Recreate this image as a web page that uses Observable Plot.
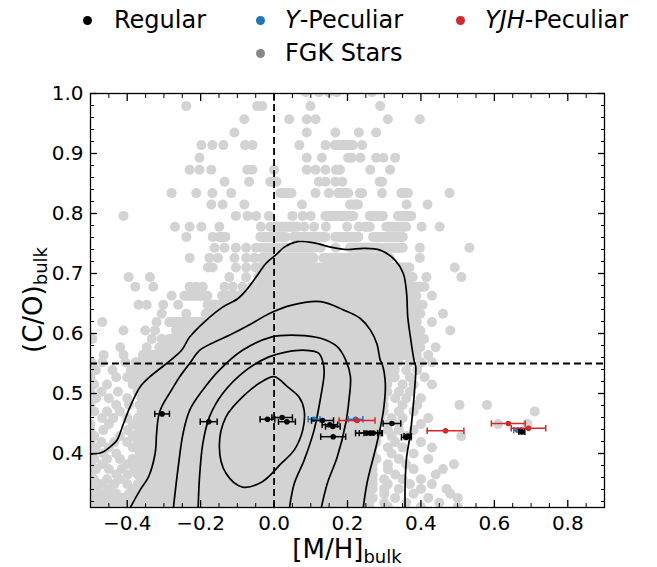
<!DOCTYPE html>
<html><head><meta charset="utf-8">
<script src="https://cdn.jsdelivr.net/npm/d3@7"></script>
<script src="https://cdn.jsdelivr.net/npm/@observablehq/plot@0.6"></script>
<style>
body{margin:0;background:#fff;font-family:"DejaVu Sans",sans-serif;}
#wrap{position:relative;width:657px;height:567px;overflow:hidden;}
#legend{position:relative;width:657px;height:75px;font-size:24px;color:#000;}
#legend .sw{position:absolute;width:9px;height:9px;border-radius:50%;}
#legend .tx{position:absolute;line-height:28px;white-space:nowrap;}
</style></head>
<body><div id="wrap">
<div id="legend">
  <span class="sw" style="left:83px;top:16px;background:#000"></span><span class="tx" style="left:114px;top:6px">Regular</span>
  <span class="sw" style="left:256px;top:16px;background:#1f77b4"></span><span class="tx" style="left:285px;top:6px"><i>Y</i>-Peculiar</span>
  <span class="sw" style="left:456px;top:16px;background:#d62728"></span><span class="tx" style="left:485px;top:6px"><i>YJH</i>-Peculiar</span>
  <span class="sw" style="left:256px;top:49px;background:#888"></span><span class="tx" style="left:285px;top:39px">FGK Stars</span>
</div>
<div id="chart"></div>
</div>
<script>
// ---- FGK stars: rows of C/O, with [M/H] values (numbers = single star, pairs = run of overlapping stars)
const fgkCO = [1.002,0.979,0.957,0.935,0.914,0.893,0.873,0.853,0.834,0.815,0.796,0.778,0.761,0.743,0.726,0.710,0.694,0.678,0.663,0.648,0.633,0.619,0.605,0.591,0.577,0.564,
  0.552,0.539,0.527,0.515,0.503,0.492,0.481,0.470,0.459,0.449,0.439,0.429,0.419,0.410,0.400,0.391,0.382,0.374,0.365,0.357,0.349,0.341,0.333,0.326,0.318,0.311];
const fgkMH = [
  [0.086,0.122,0.149,0.171,0.267],
  [-0.239,-0.046,-0.032,0.099,0.289],
  [-0.081,0.041,0.089,0.113,0.31,0.397],
  [-0.108,0.089,0.167,0.231,0.278],
  [-0.198,-0.168,-0.138,-0.079,-0.059,0.069,0.14,[0.167,0.216],0.24],
  [-0.203,0.089,0.13,[0.203,0.213],0.235,0.278,0.298,0.33],
  [-0.23,-0.203,-0.171,-0.073,-0.059,0.0,0.089,0.113,0.14,[0.17,0.181],0.262,0.316],
  [-0.135,-0.068,[-0.009,0.008],0.122,0.14,0.167,0.186,[0.289,0.296]],
  [-0.279,-0.212,-0.168,-0.117,[0.018,0.049],0.113,0.149,[0.176,0.203],[0.235,0.241],0.294,[0.348,0.366],0.478],
  [-0.171,-0.14,-0.081,0.076,[0.208,0.23],0.361,0.418],
  [-0.41,-0.104,-0.072,-0.049,-0.014,0.05,0.078,0.1,[0.141,0.217],[0.262,0.298],[0.339,0.375]],
  [-0.27,-0.23,-0.198,-0.149,-0.036,[-0.009,0.064],0.082,0.109,0.141,0.199,0.231,[0.249,0.262],[0.307,0.361],0.402,0.451],
  [-0.239,-0.167,[-0.149,-0.131],[-0.036,0.032],[0.055,0.141],[0.168,0.231],[0.271,0.352]],
  [-0.162,-0.135,-0.104,-0.076,-0.049,[-0.032,0.109],0.127,0.168,[0.208,0.289],[0.303,0.352],0.397,0.532],
  [-0.23,-0.176,-0.153,-0.108,-0.076,-0.054,[-0.032,0.109],[0.136,0.316],0.397],
  [-0.18,-0.167,-0.104,-0.076,[-0.049,0.37],0.492],
  [-0.396,-0.338,-0.122,-0.076,[-0.041,0.379],0.415,0.51],
  [-0.378,-0.329,-0.23,-0.212,-0.194,-0.135,-0.113,-0.086,[-0.059,0.411]],
  [-0.279,[-0.243,-0.18],[-0.14,0.389],0.43],
  [-0.369,-0.347,-0.302,-0.261,[-0.18,0.406]],
  [-0.306,-0.239,[-0.185,0.40],0.46],
  [-0.468,-0.32,[-0.284,0.39],0.43],
  [-0.41,-0.351,-0.324,[-0.266,0.40],0.48],
  [-0.495,-0.333,-0.306,[-0.284,0.41]],
  [-0.419,-0.347,[-0.311,0.40],0.44],
  [-0.464,-0.41,[-0.356,0.39],0.42],
  [-0.497,-0.468,-0.405,[-0.375,0.34],0.37,0.40,0.43],
  [-0.485,-0.44,-0.39,[-0.37,0.33],0.36,0.39],
  [-0.5,-0.43,-0.40,[-0.375,0.33],0.37,0.41],
  [-0.49,-0.455,-0.385,[-0.36,0.31],0.35,0.38,0.43],
  [-0.5,-0.47,-0.425,[-0.37,0.31],0.34,0.37],
  [-0.485,-0.45,-0.40,[-0.36,0.30],0.33,0.36,0.40],
  [-0.5,-0.43,-0.395,[-0.365,0.30],0.35,0.39,0.505,0.58],
  [-0.49,-0.455,-0.42,[-0.36,0.30],0.34,0.38,0.71],
  [-0.468,-0.438,-0.40,[-0.37,0.29],0.32,0.35,0.42],
  [-0.5,-0.45,-0.385,[-0.36,0.28],0.31,0.34,0.40,0.61,0.69],
  [-0.5,-0.465,-0.398,[-0.368,0.28],0.31,0.34,0.38],
  [-0.49,-0.42,-0.385,[-0.36,0.28],0.32,0.36,0.51],
  [-0.5,-0.47,-0.435,-0.40,[-0.37,0.28],0.33,0.40],
  [-0.485,-0.45,-0.385,[-0.36,0.27],0.31,0.35,0.43],
  [-0.5,-0.465,-0.43,[-0.365,0.27],0.32,0.38],
  [-0.49,-0.455,-0.42,-0.385,[-0.36,0.28],0.34,0.42],
  [-0.5,-0.468,-0.40,[-0.37,0.27],0.31,0.36,0.49],
  [-0.485,-0.45,-0.415,-0.38,[-0.36,0.27],0.31,0.38,0.46],
  [-0.5,-0.43,-0.398,[-0.37,0.27],0.33,0.44],
  [-0.49,-0.455,-0.42,[-0.36,0.27],0.30,0.35,0.40],
  [-0.5,-0.47,-0.435,-0.40,[-0.37,0.27],0.31,0.37,0.43],
  [-0.485,-0.45,-0.385,[-0.36,0.27],0.30,0.34,0.40,0.47],
  [-0.5,-0.465,-0.43,-0.395,[-0.365,0.26],0.30,0.38,0.48],
  [[-0.5,0.27],0.33,0.42,0.50],
  [[-0.5,0.26],0.30,0.36,0.45],
  [[-0.5,0.26],0.31,0.40,0.50]
];

// ---- KDE contours of the FGK sample: [M/H], C/O
const contour1 = [[-0.5,0.399],[-0.468,0.402],[-0.441,0.414],[-0.428,0.422],[-0.41,0.45],[-0.392,0.478],[-0.365,0.511],[-0.338,0.528],[-0.293,0.55],[-0.252,0.572],[-0.23,0.594],[-0.185,0.622],[-0.14,0.644],[-0.099,0.658],[-0.076,0.672],[-0.049,0.694],[-0.022,0.717],[0.005,0.731],[0.028,0.744],[0.064,0.753],[0.109,0.751],[0.154,0.744],[0.199,0.74],[0.244,0.742],[0.289,0.739],[0.33,0.722],[0.352,0.7],[0.361,0.667],[0.364,0.628],[0.37,0.6],[0.381,0.556],[0.386,0.544],[0.384,0.517],[0.378,0.472],[0.37,0.428],[0.361,0.394],[0.357,0.35],[0.357,0.305]];
const contour2 = [[-0.396,0.305],[-0.365,0.339],[-0.342,0.361],[-0.324,0.4],[-0.32,0.433],[-0.315,0.461],[-0.306,0.478],[-0.279,0.506],[-0.257,0.528],[-0.23,0.55],[-0.203,0.572],[-0.162,0.586],[-0.122,0.597],[-0.068,0.614],[-0.014,0.633],[0.046,0.647],[0.127,0.653],[0.19,0.639],[0.235,0.625],[0.262,0.606],[0.28,0.583],[0.289,0.556],[0.294,0.55],[0.303,0.517],[0.298,0.472],[0.28,0.417],[0.253,0.35],[0.242,0.305]];
const contour3 = [[-0.275,0.305],[-0.261,0.378],[-0.248,0.433],[-0.23,0.472],[-0.194,0.506],[-0.149,0.539],[-0.086,0.572],[-0.008,0.594],[0.064,0.597],[0.127,0.592],[0.172,0.578],[0.195,0.556],[0.208,0.528],[0.204,0.489],[0.195,0.45],[0.172,0.394],[0.145,0.35],[0.127,0.305]];
const contour4 = [[-0.207,0.305],[-0.203,0.361],[-0.194,0.417],[-0.176,0.461],[-0.14,0.5],[-0.076,0.539],[-0.014,0.561],[0.032,0.569],[0.086,0.572],[0.122,0.567],[0.135,0.547],[0.136,0.53],[0.127,0.494],[0.109,0.439],[0.082,0.389],[0.055,0.35],[0.041,0.305]];
const contour5 = [[0,0.528],[0.037,0.511],[0.068,0.494],[0.082,0.472],[0.078,0.439],[0.055,0.406],[0.019,0.383],[-0.032,0.353],[-0.086,0.344],[-0.131,0.367],[-0.149,0.411],[-0.131,0.461],[-0.076,0.5],[-0.035,0.519]];

// ---- planets: bulk [M/H], bulk C/O, [M/H] uncertainty
const regular = [
  {mh:-0.305,co:0.466,err:0.02},{mh:-0.178,co:0.453,err:0.023},{mh:-0.018,co:0.457,err:0.02},
  {mh:0.022,co:0.460,err:0.028},{mh:0.035,co:0.453,err:0.023},{mh:0.132,co:0.455,err:0.03},
  {mh:0.152,co:0.448,err:0.021},{mh:0.160,co:0.445,err:0.02},{mh:0.161,co:0.428,err:0.034},
  {mh:0.252,co:0.434,err:0.03},{mh:0.262,co:0.434,err:0.03},{mh:0.270,co:0.434,err:0.025},
  {mh:0.321,co:0.450,err:0.024},{mh:0.360,co:0.427,err:0.013},{mh:0.364,co:0.429,err:0.01},
  {mh:0.675,co:0.436,err:0.008}
];
const yPeculiar = [{mh:0.109,co:0.457,err:0.016},{mh:0.222,co:0.457,err:0.02},{mh:0.663,co:0.439,err:0.01}];
const yjhPeculiar = [{mh:0.226,co:0.455,err:0.049},{mh:0.467,co:0.438,err:0.05},{mh:0.638,co:0.450,err:0.046},{mh:0.693,co:0.442,err:0.047}];

const xMajor = [-0.4,-0.2,0.0,0.2,0.4,0.6,0.8];
const yMajor = [0.4,0.5,0.6,0.7,0.8,0.9,1.0];
const xMinor = d3.range(-10,19).map(k=>k*0.05).filter(v=>Math.abs(v*5-Math.round(v*5))>1e-6);
const yMinor = d3.range(16,51).map(k=>k*0.02).filter(v=>Math.abs(v*10-Math.round(v*10))>1e-6);

// ---- build tables
const singles = [], runs = [];
fgkCO.forEach((co,i)=>fgkMH[i].forEach(v=>{
  if (Array.isArray(v)) runs.push({co, a:v[0], b:v[1]}); else singles.push({co, mh:v});
}));
const gray = "#d3d3d3";
const capSymbol = {draw(ctx, size){const h=Math.sqrt(size/Math.PI); ctx.moveTo(0,-h); ctx.lineTo(0,h);}};
function group(data, color){
  return [
    Plot.ruleY(data,{y:"co",x1:d=>d.mh-d.err,x2:d=>d.mh+d.err,stroke:color,strokeWidth:1.5}),
    Plot.dot(data,{x:d=>d.mh-d.err,y:"co",symbol:capSymbol,r:3.2,fill:"none",stroke:color,strokeWidth:1.5}),
    Plot.dot(data,{x:d=>d.mh+d.err,y:"co",symbol:capSymbol,r:3.2,fill:"none",stroke:color,strokeWidth:1.5}),
    Plot.dot(data,{x:"mh",y:"co",r:2.8,fill:color,stroke:"none"})
  ];
}
const cline = (c, curve="catmull-rom") => Plot.line(c,{x:d=>d[0],y:d=>d[1],curve,stroke:"black",strokeWidth:1.7,clip:true});
const tickAx = (f, anchor, ticks, size, w) => f({anchor, ticks, tickSize:-size, fill:"none", label:null, stroke:"black", strokeWidth:w});

const plot = Plot.plot({
  width:657, height:492,
  marginTop:18, marginBottom:60, marginLeft:90, marginRight:53,
  x:{domain:[-0.5,0.9]},
  y:{domain:[0.31,1.0]},
  style:{fontFamily:"DejaVu Sans", fontSize:"20px", color:"black", background:"white", overflow:"visible"},
  marks:[
    Plot.ruleY(runs,{y:"co",x1:"a",x2:"b",stroke:gray,strokeWidth:10,strokeLinecap:"round",clip:true}),
    Plot.dot(singles,{x:"mh",y:"co",r:5,fill:gray,stroke:"none",clip:true}),
    cline(contour1), cline(contour2), cline(contour3), cline(contour4), cline(contour5,"catmull-rom-closed"),
    Plot.ruleX([0],{stroke:"black",strokeWidth:1.8,strokeDasharray:"7,4"}),
    Plot.ruleY([0.55],{stroke:"black",strokeWidth:1.8,strokeDasharray:"7,4"}),
    ...group(yPeculiar,"#1f77b4"),
    ...group(yjhPeculiar,"#d62728"),
    ...group(regular,"black"),
    Plot.frame({stroke:"black",strokeWidth:1.3}),
    Plot.axisX({anchor:"bottom",ticks:xMajor,tickSize:0,tickPadding:8,tickFormat:d3.format(".1f"),label:null}),
    Plot.axisY({anchor:"left",ticks:yMajor,tickSize:0,tickPadding:7,tickFormat:d3.format(".1f"),label:null}),
    tickAx(Plot.axisX,"bottom",xMajor,7,1.3), tickAx(Plot.axisX,"bottom",xMinor,4,1),
    tickAx(Plot.axisX,"top",xMajor,7,1.3), tickAx(Plot.axisX,"top",xMinor,4,1),
    tickAx(Plot.axisY,"left",yMajor,7,1.3), tickAx(Plot.axisY,"left",yMinor,4,1),
    tickAx(Plot.axisY,"right",yMajor,7,1.3), tickAx(Plot.axisY,"right",yMinor,4,1)
  ]
});
document.getElementById("chart").appendChild(plot);

// axis titles with subscripts
const svg = d3.select(plot);
const xr = plot.scale("x").range, yr = plot.scale("y").range;
const xl = svg.append("text").attr("x",(xr[0]+xr[1])/2).attr("y",483).attr("text-anchor","middle")
  .attr("font-size",26).attr("fill","black");
xl.append("tspan").text("[M/H]");
xl.append("tspan").attr("font-size",18).attr("dy",5).text("bulk");
const yl = svg.append("text").attr("transform",`translate(42,${(yr[0]+yr[1])/2}) rotate(-90)`).attr("text-anchor","middle")
  .attr("font-size",26).attr("fill","black");
yl.append("tspan").text("(C/O)");
yl.append("tspan").attr("font-size",18).attr("dy",5).text("bulk");
</script>
</body></html>
